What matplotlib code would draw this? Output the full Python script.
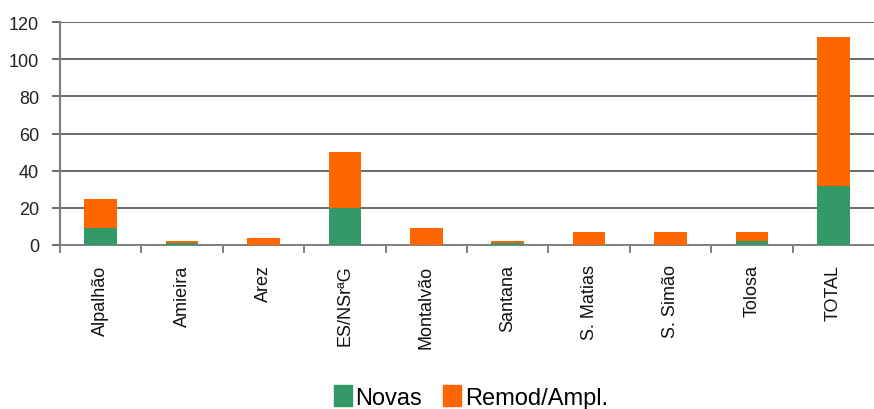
import matplotlib
matplotlib.use("Agg")
import matplotlib.pyplot as plt
import numpy as np
from matplotlib.ticker import FixedLocator
from matplotlib.patches import Patch

categories = ["Alpalhão", "Amieira", "Arez", "ES/NSrªG", "Montalvão", "Santana",
              "S. Matias", "S. Simão", "Tolosa", "TOTAL"]
novas = [9, 1, 0, 20, 0, 1, 0, 0, 2, 32]
remod = [16, 1, 4, 30, 9, 1, 7, 7, 5, 80]
yticks = [0, 20, 40, 60, 80, 100, 120]

GREEN = "#339966"
ORANGE = "#FF6600"
FONT = ["Liberation Sans", "DejaVu Sans"]

fig = plt.figure(figsize=(8.74, 4.10), dpi=100)
ax = fig.add_axes([60/874, 1 - 246/410, 1 - 60/874, (246 - 23)/410])

x = np.arange(len(categories))
ax.bar(x, novas, width=0.4, color=GREEN, zorder=3)
ax.bar(x, remod, width=0.4, bottom=novas, color=ORANGE, zorder=3)

ax.set_xlim(-0.5, len(categories) - 0.5)
ax.set_ylim(0, 120)
ax.set_yticks(yticks)
ax.yaxis.grid(True, color="#404040", linewidth=1.1, zorder=0)
ax.set_axisbelow(True)

for s in ["top", "right"]:
    ax.spines[s].set_visible(False)
ax.spines["left"].set_color("#808080")
ax.spines["bottom"].set_color("#808080")
ax.spines["left"].set_linewidth(1.6)
ax.spines["bottom"].set_linewidth(1.4)

ax.set_xticks(x)
ax.set_xticklabels(categories, rotation=90, fontsize=13, family=FONT, color="#111111")
ax.tick_params(axis="x", which="major", length=0, pad=14)
ax.xaxis.set_minor_locator(FixedLocator(np.arange(-0.5, len(categories) - 0.5, 1.0)))
ax.tick_params(axis="x", which="minor", length=6, color="#808080", width=1.4, direction="out")
ax.tick_params(axis="y", length=6, color="#404040", width=1.1, pad=9)
for lab in ax.get_yticklabels():
    lab.set_family(FONT)
    lab.set_fontsize(13)
    lab.set_color("#222222")

handles = [Patch(color=GREEN, label="Novas"), Patch(color=ORANGE, label="Remod/Ampl.")]
fig.legend(handles=handles, loc="center", bbox_to_anchor=(471/874, 1 - 398/410),
           ncol=2, frameon=False, handlelength=0.75, handleheight=1.0,
           handletextpad=0.15, columnspacing=0.9,
           prop={"family": FONT, "size": 17})

fig.savefig("out.png", dpi=100)
